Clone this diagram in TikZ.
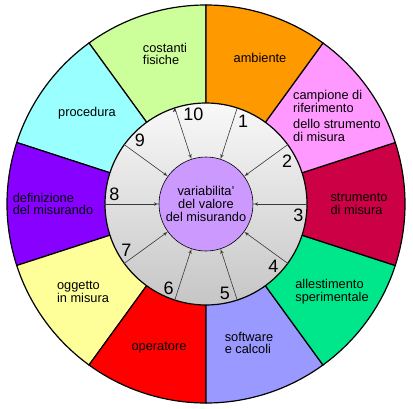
\documentclass[tikz,border=0pt]{standalone}
\usepackage{fontspec}
\setmainfont{Liberation Sans}
\usepackage{tikz}
\usetikzlibrary{shapes, arrows, positioning}
\definecolor{fisiche}{HTML}{CCFF99}
\definecolor{ambiente}{HTML}{FF9900}
\definecolor{campione}{HTML}{FF99FF}
\definecolor{strumento}{HTML}{CC0044}
\definecolor{allestim}{HTML}{00E68A}
\definecolor{software}{HTML}{9999FF}
\definecolor{operatore}{HTML}{FF0000}
\definecolor{oggetto}{HTML}{FFFF99}
\definecolor{definiz}{HTML}{8800FF}
\definecolor{procedura}{HTML}{99FFFF}
\definecolor{lavanda}{HTML}{CC99FF}
\tikzstyle{->}     = [draw, gray!45!black, line width=0.6pt, -latex']
\tikzstyle{o}      = [draw, circle, line width=1.2pt, inner sep=0pt]
\tikzstyle{slice}  = [draw=black, line width=1.2pt]
\tikzstyle{cause}  = [align=left, inner sep=0pt, font=\fontsize{12.8}{12.8}\selectfont]
\tikzstyle{num}    = [inner sep=0pt, font=\fontsize{18}{18}\selectfont]

\begin{document}
\begin{tikzpicture}

\useasboundingbox (-206pt,-204pt) rectangle (207pt,204pt);

% slices
\path [slice, fill=fisiche]   (0,0) -- (90:199pt)  arc (90:126:199pt)  -- cycle;
\path [slice, fill=procedura] (0,0) -- (126:199pt) arc (126:162:199pt) -- cycle;
\path [slice, fill=definiz]   (0,0) -- (162:199pt) arc (162:198:199pt) -- cycle;
\path [slice, fill=oggetto]   (0,0) -- (198:199pt) arc (198:234:199pt) -- cycle;
\path [slice, fill=operatore] (0,0) -- (234:199pt) arc (234:270:199pt) -- cycle;
\path [slice, fill=software]  (0,0) -- (270:199pt) arc (270:306:199pt) -- cycle;
\path [slice, fill=allestim]  (0,0) -- (306:199pt) arc (306:342:199pt) -- cycle;
\path [slice, fill=strumento] (0,0) -- (-18:199pt) arc (-18:18:199pt)  -- cycle;
\path [slice, fill=campione]  (0,0) -- (18:199pt)  arc (18:54:199pt)   -- cycle;
\path [slice, fill=ambiente]  (0,0) -- (54:199pt)  arc (54:90:199pt)   -- cycle;

% nodes
\node [o, top color=gray!5, bottom color=gray!45, minimum size=202pt] at (0,0) (ring) {};
\node [o, fill=lavanda, line width=0.6pt, minimum size=94pt, align=center,
       font=\fontsize{12.8}{12.8}\selectfont]                       at (0,0) (core)
      {variabilita\symbol{39}\\del valore\\del misurando};

\node [cause]              at (-41pt, 150pt)  (costanti)  {costanti\\fisiche};
\node [cause]              at ( 54pt, 146pt)  (amb)       {ambiente};
\node [cause, anchor=west] at ( 87pt,  88pt)  (camp)      {campione di\\riferimento\\[4pt]dello strumento\\di misura};
\node [cause]              at ( 153pt,   0pt) (strum)     {strumento\\di misura};
\node [cause]              at ( 126pt, -88pt) (allest)    {allestimento\\sperimentale};
\node [cause]              at ( 43pt, -139pt) (soft)      {software\\e calcoli};
\node [cause]              at (-47pt, -144pt) (oper)      {operatore};
\node [cause]              at (-123pt, -88pt) (ogg)       {oggetto\\in misura};
\node [cause]              at (-153pt,   0pt) (defin)     {definizione\\del misurando};
\node [cause]              at (-119pt,  91pt) (proc)      {procedura};

\node [num] at (66:91pt)   (n1)  {1};
\node [num] at (28:92pt)   (n2)  {2};
\node [num] at (-7:93pt)   (n3)  {3};
\node [num] at (-43:92pt)  (n4)  {4};
\node [num] at (-78:91pt)  (n5)  {5};
\node [num] at (-114:92pt) (n6)  {6};
\node [num] at (-150:92pt) (n7)  {7};
\node [num] at (174:92pt)  (n8)  {8};
\node [num] at (136:92pt)  (n9)  {9};
\node [num] at (98:91pt)   (n10) {10};

% edges
\path [->] (ring.72)  edge (core)
           (ring.36)  edge (core)
           (ring.0)   edge (core)
           (ring.-36) edge (core)
           (ring.-72) edge (core)
           (ring.-108) edge (core)
           (ring.-144) edge (core)
           (ring.180) edge (core)
           (ring.144) edge (core)
           (ring.108) edge (core);

\end{tikzpicture}
\end{document}
